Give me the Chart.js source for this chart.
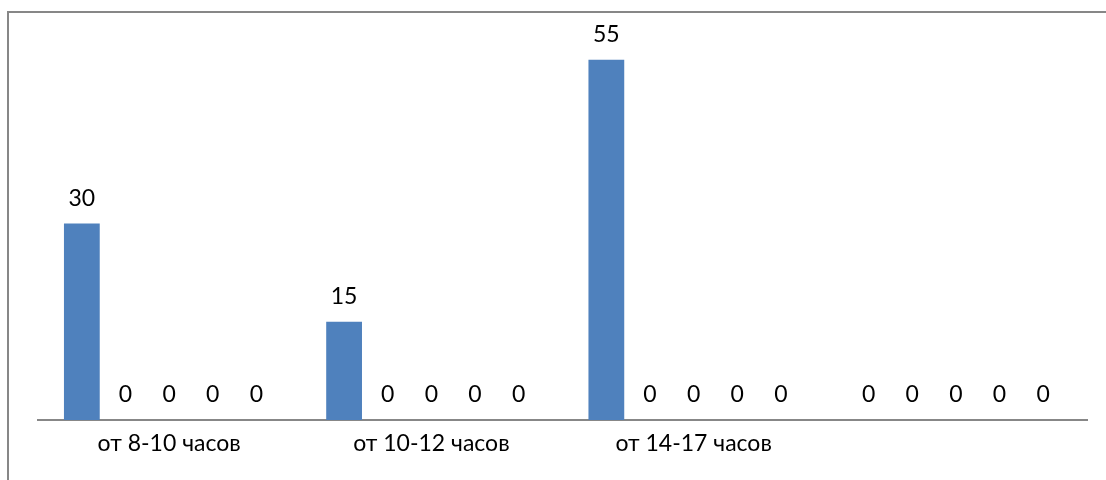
<!DOCTYPE html>
<html>
<head>
<meta charset="utf-8">
<script src="https://cdn.jsdelivr.net/npm/chart.js@4/dist/chart.umd.min.js"></script>
<style>
  html, body { margin: 0; padding: 0; background: #fff; }
  #wrap { position: relative; width: 1106px; height: 480px; overflow: hidden; }
  #frame {
    position: absolute; left: 7px; top: 11px; width: 1200px; height: 600px;
    border-top: 2px solid #878787; border-left: 2px solid #878787;
  }
  canvas { position: absolute; left: 0; top: 0; }
</style>
</head>
<body>
<div id="wrap">
  <div id="frame"></div>
  <canvas id="chart" width="1106" height="480"></canvas>
</div>
<script>
  // категории и ряды
  const categories = ['от 8-10 часов', 'от 10-12 часов', 'от 14-17 часов', ''];
  const series1 = [30, 15, 55, 0];
  const series2 = [0, 0, 0, 0];
  const series3 = [0, 0, 0, 0];
  const series4 = [0, 0, 0, 0];
  const series5 = [0, 0, 0, 0];
  const yMin = 0;
  const yMax = 60;

  const FONT = 'Lato, "Open Sans", sans-serif';

  // подписи значений над столбцами
  const valueLabels = {
    id: 'valueLabels',
    afterDatasetsDraw(chart) {
      const ctx = chart.ctx;
      ctx.save();
      ctx.font = '23px ' + FONT;
      ctx.fillStyle = '#000';
      ctx.textAlign = 'center';
      ctx.textBaseline = 'middle';
      chart.data.datasets.forEach((ds, i) => {
        chart.getDatasetMeta(i).data.forEach((bar, j) => {
          ctx.fillText(String(ds.data[j]), bar.x, bar.y - 25);
        });
      });
      ctx.restore();
    }
  };

  const seriesList = [series1, series2, series3, series4, series5];

  new Chart(document.getElementById('chart').getContext('2d'), {
    type: 'bar',
    data: {
      labels: categories,
      datasets: seriesList.map((s, i) => ({
        label: 'Ряд ' + (i + 1),
        data: s,
        backgroundColor: '#4f81bd',
        borderWidth: 0,
        barPercentage: 0.82,
        categoryPercentage: 0.832
      }))
    },
    options: {
      responsive: false,
      animation: false,
      layout: { padding: { left: 38, right: 19, top: 27, bottom: 0 } },
      plugins: {
        legend: { display: false },
        tooltip: { enabled: false }
      },
      scales: {
        x: {
          grid: { display: false },
          border: { display: true, color: '#878787', width: 2 },
          ticks: { color: '#000', font: { family: FONT, size: 23 }, padding: 2, maxRotation: 0 },
          afterFit(scale) { scale.height = 60; }
        },
        y: {
          display: false,
          min: yMin,
          max: yMax
        }
      }
    },
    plugins: [valueLabels]
  });
</script>
</body>
</html>
